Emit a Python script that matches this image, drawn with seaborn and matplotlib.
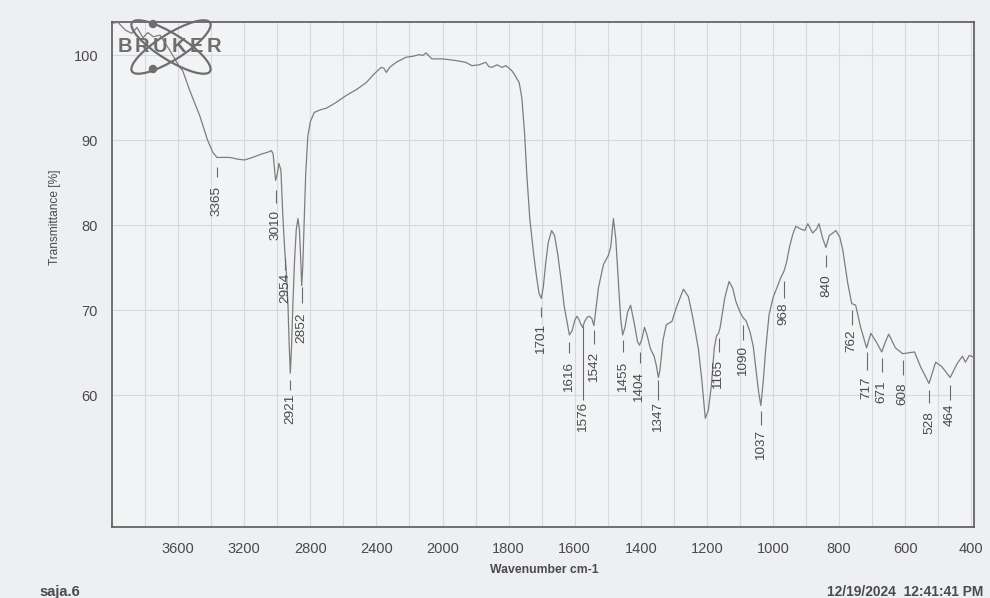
import numpy as np
import pandas as pd
import matplotlib
matplotlib.use("Agg")
import matplotlib.pyplot as plt
import seaborn as sns
from matplotlib.patches import Ellipse, Circle
from matplotlib.transforms import IdentityTransform

# ---------------- data ----------------
wavenumber = [3995, 3964, 3920, 3880, 3849, 3813, 3783, 3750, 3710, 3680, 3650, 3620,
              3590, 3572, 3530, 3469, 3421, 3390, 3365, 3330, 3288, 3240, 3198, 3150,
              3095, 3060, 3035, 3025, 3018, 3010, 3000, 2990, 2978, 2966, 2954, 2945,
              2935, 2928, 2921, 2914, 2905, 2895, 2885, 2875, 2866, 2858, 2852, 2846,
              2838, 2828, 2815, 2800, 2776, 2740, 2702, 2650, 2582, 2520, 2462, 2410,
              2371, 2355, 2340, 2320, 2280, 2220, 2180, 2142, 2120, 2100, 2064, 2000,
              1959, 1930, 1911, 1890, 1869, 1860, 1851, 1835, 1820, 1808, 1790, 1780,
              1768, 1760, 1752, 1745, 1736, 1724, 1715, 1708, 1701, 1695, 1688, 1680,
              1670, 1661, 1651, 1641, 1632, 1616, 1608, 1600, 1594, 1588, 1582, 1576,
              1570, 1562, 1555, 1548, 1542, 1538, 1528, 1513, 1498, 1491, 1483, 1476,
              1468, 1461, 1455, 1448, 1440, 1431, 1420, 1410, 1404, 1397, 1389, 1382,
              1371, 1360, 1353, 1347, 1342, 1333, 1323, 1306, 1291, 1271, 1256, 1242,
              1226, 1216, 1205, 1196, 1187, 1178, 1171, 1165, 1160, 1146, 1133, 1122,
              1112, 1100, 1090, 1082, 1070, 1060, 1050, 1044, 1037, 1030, 1022, 1012,
              1000, 985, 975, 968, 960, 950, 940, 931, 918, 904, 895, 880, 868, 861,
              850, 840, 830, 819, 810, 798, 789, 774, 762, 750, 735, 717, 704, 688,
              671, 660, 650, 630, 608, 590, 572, 553, 528, 508, 490, 464, 442, 427,
              418, 406, 394]
transmittance = [103.8, 103.9, 103.0, 102.6, 103.3, 102.1, 102.7, 102.2, 102.4, 101.5, 100.6, 99.6,
                 98.6, 98.2, 95.9, 92.9, 90.0, 88.6, 88.0, 88.0, 88.0, 87.8, 87.7, 88.0,
                 88.4, 88.6, 88.8, 88.4, 87.0, 85.3, 86.0, 87.3, 86.5, 81.0, 76.8, 74.5,
                 70.5, 66.0, 62.6, 65.5, 71.0, 76.0, 79.5, 80.8, 79.5, 76.0, 72.9, 75.0,
                 80.0, 86.0, 90.5, 92.2, 93.3, 93.6, 93.8, 94.4, 95.3, 96.0, 96.8, 97.9,
                 98.6, 98.5, 98.0, 98.6, 99.2, 99.8, 99.9, 100.1, 100.0, 100.3, 99.6, 99.6,
                 99.4, 99.2, 98.8, 98.9, 99.2, 98.7, 98.6, 98.9, 98.6, 98.8, 98.2, 97.6,
                 96.8, 95.0, 91.0, 86.0, 80.8, 76.5, 73.8, 72.0, 71.4, 72.8, 75.5, 78.0,
                 79.4, 78.8, 76.5, 73.5, 70.5, 67.1, 67.6, 68.8, 69.3, 69.0, 68.4, 68.0,
                 68.7, 69.2, 69.3, 69.0, 68.2, 69.5, 72.7, 75.4, 76.5, 77.5, 80.8, 78.5,
                 73.5, 69.0, 67.1, 68.0, 69.8, 70.6, 68.5, 66.3, 65.9, 66.6, 68.0, 67.2,
                 65.5, 64.6, 63.5, 62.1, 63.0, 66.5, 68.3, 68.7, 70.5, 72.5, 71.6, 69.0,
                 65.5, 62.0, 57.3, 58.2, 61.0, 65.5, 67.0, 67.3, 68.0, 71.5, 73.4, 72.6,
                 71.0, 69.8, 69.1, 68.8, 67.5, 65.8, 62.5, 60.5, 58.8, 61.5, 65.5, 69.5,
                 71.5, 73.0, 74.0, 74.5, 75.5, 77.5, 79.0, 79.9, 79.6, 79.4, 80.2, 79.1,
                 79.6, 80.2, 78.5, 77.4, 78.8, 79.1, 79.4, 78.6, 77.1, 73.2, 70.8, 70.6,
                 68.0, 65.6, 67.3, 66.3, 65.1, 66.3, 67.2, 65.6, 64.9, 65.0, 65.1, 63.3,
                 61.4, 63.9, 63.4, 62.1, 63.8, 64.6, 63.9, 64.7, 64.5]

peak_labels = ["3365", "3010", "2954", "2921", "2852", "1701", "1616", "1576", "1542",
               "1455", "1404", "1347", "1165", "1090", "1037", "968", "840", "762",
               "717", "671", "608", "528", "464"]
x_ticks = [3600, 3200, 2800, 2400, 2000, 1800, 1600, 1400, 1200, 1000, 800, 600, 400]
y_ticks = [60, 70, 80, 90, 100]

# ---------------- annotation layout (label text centre, tick segment) ----------------
label_text_y = [82.9, 80.1, 72.6, 58.4, 67.9, 66.6, 62.2, 57.4, 63.4,
                62.2, 61.0, 57.4, 62.4, 64.0, 54.1, 69.6, 72.9, 66.4,
                60.9, 60.4, 60.2, 56.8, 57.7]
label_tick_top = [86.9, 84.2, 76.2, 61.8, 72.8, 70.4, 66.3, 68.1, 67.7,
                  66.5, 65.1, 61.8, 66.8, 68.3, 58.2, 73.4, 76.5, 70.1,
                  65.1, 64.4, 64.2, 60.6, 61.2]
label_tick_bot = [85.7, 82.6, 74.8, 60.6, 70.9, 69.2, 65.0, 59.5, 66.0,
                  65.1, 63.8, 59.5, 65.1, 66.5, 56.5, 71.5, 75.1, 68.3,
                  63.0, 62.8, 62.4, 59.1, 59.5]

# ---------------- style ----------------
sns.set_theme(style="white")
plt.rcParams["font.family"] = ["Liberation Sans", "DejaVu Sans"]

BG = "#edeff2"
AX_BG = "#f1f3f5"
GRID = "#d6d9de"
LINE = "#7d7d7d"
TXT = "#4a4a4a"

fig = plt.figure(figsize=(9.9, 5.98), dpi=100, facecolor=BG)
ax = fig.add_axes([112 / 990, 1 - 527 / 598, (974 - 112) / 990, (527 - 21.5) / 598])
ax.set_facecolor(AX_BG)


def fwd(w):
    w = np.asarray(w, dtype=float)
    return np.where(w > 2000, 2000 + (w - 2000) / 2.0, w)


def inv(u):
    u = np.asarray(u, dtype=float)
    return np.where(u > 2000, 2000 + (u - 2000) * 2.0, u)


ax.set_xscale("function", functions=(fwd, inv))

df = pd.DataFrame({"Wavenumber": wavenumber, "Transmittance": transmittance})
sns.lineplot(data=df, x="Wavenumber", y="Transmittance", ax=ax, color=LINE,
             linewidth=0.9, estimator=None, sort=False, zorder=3)

ax.set_xlim(4000, 392)
ax.set_ylim(44.5, 104)

ax.set_xticks(x_ticks)
ax.set_xticklabels([str(t) for t in x_ticks])
minor_x = list(range(3800, 2000, -200)) + list(range(1900, 400, -100))
ax.set_xticks(minor_x, minor=True)
ax.set_yticks(y_ticks)
ax.set_yticklabels([str(t) for t in y_ticks])

ax.grid(True, which="both", axis="x", color=GRID, linewidth=0.8)
ax.grid(True, which="major", axis="y", color=GRID, linewidth=0.8)
ax.tick_params(axis="both", which="both", direction="out", length=4.5, width=0.8,
               color=GRID, labelsize=10.5, labelcolor=TXT)
ax.tick_params(axis="x", which="major", pad=6)
ax.tick_params(axis="y", which="major", pad=5.5)
ax.set_xlabel("")
ax.set_ylabel("")
for sp in ax.spines.values():
    sp.set_visible(True)
    sp.set_color("#5a5a5a")
    sp.set_linewidth(1.2)

# peak labels
for lab, ty, t0, t1 in zip(peak_labels, label_text_y, label_tick_top, label_tick_bot):
    w = float(lab)
    ax.vlines(w, t1, t0, color="#6a6a6a", linewidth=0.8, zorder=4)
    ax.text(w, ty, lab, rotation=90, ha="center", va="center", fontsize=9.7,
            color=TXT, zorder=5)

# axis titles and footer
fig.text(55 / 990, 1 - 217 / 598, "Transmittance [%]", rotation=90, ha="center",
         va="center", fontsize=8.6, color=TXT)
fig.text(544 / 990, 1 - 570 / 598, "Wavenumber cm-1", ha="center", va="center",
         fontsize=8.8, fontweight="bold", color=TXT)
fig.text(39 / 990, 1 - 592 / 598, "saja.6", ha="left", va="center",
         fontsize=10.5, fontweight="bold", color=TXT)
fig.text(827 / 990, 1 - 592 / 598, "12/19/2024  12:41:41 PM", ha="left", va="center",
         fontsize=9.9, fontweight="bold", color=TXT)

# BRUKER logo
logo_col = "#6e6e6e"
H = 598
for ang in (32, -32):
    e = Ellipse((171, H - 47), 92, 26, angle=ang, fill=False, edgecolor=logo_col,
                linewidth=1.6, transform=IdentityTransform(), zorder=6)
    fig.add_artist(e)
for cy in (24, 69):
    c = Circle((153, H - cy), 3.5, color=logo_col, transform=IdentityTransform(), zorder=7)
    fig.add_artist(c)
for ch, cx in zip("BRUKER", [125, 142, 160, 179, 196, 214]):
    fig.text(cx / 990, 1 - 47 / 598, ch, ha="center", va="center", fontsize=14.5,
             fontweight="bold", color=logo_col, zorder=8)

fig.savefig("out.png", dpi=100, facecolor=BG)
